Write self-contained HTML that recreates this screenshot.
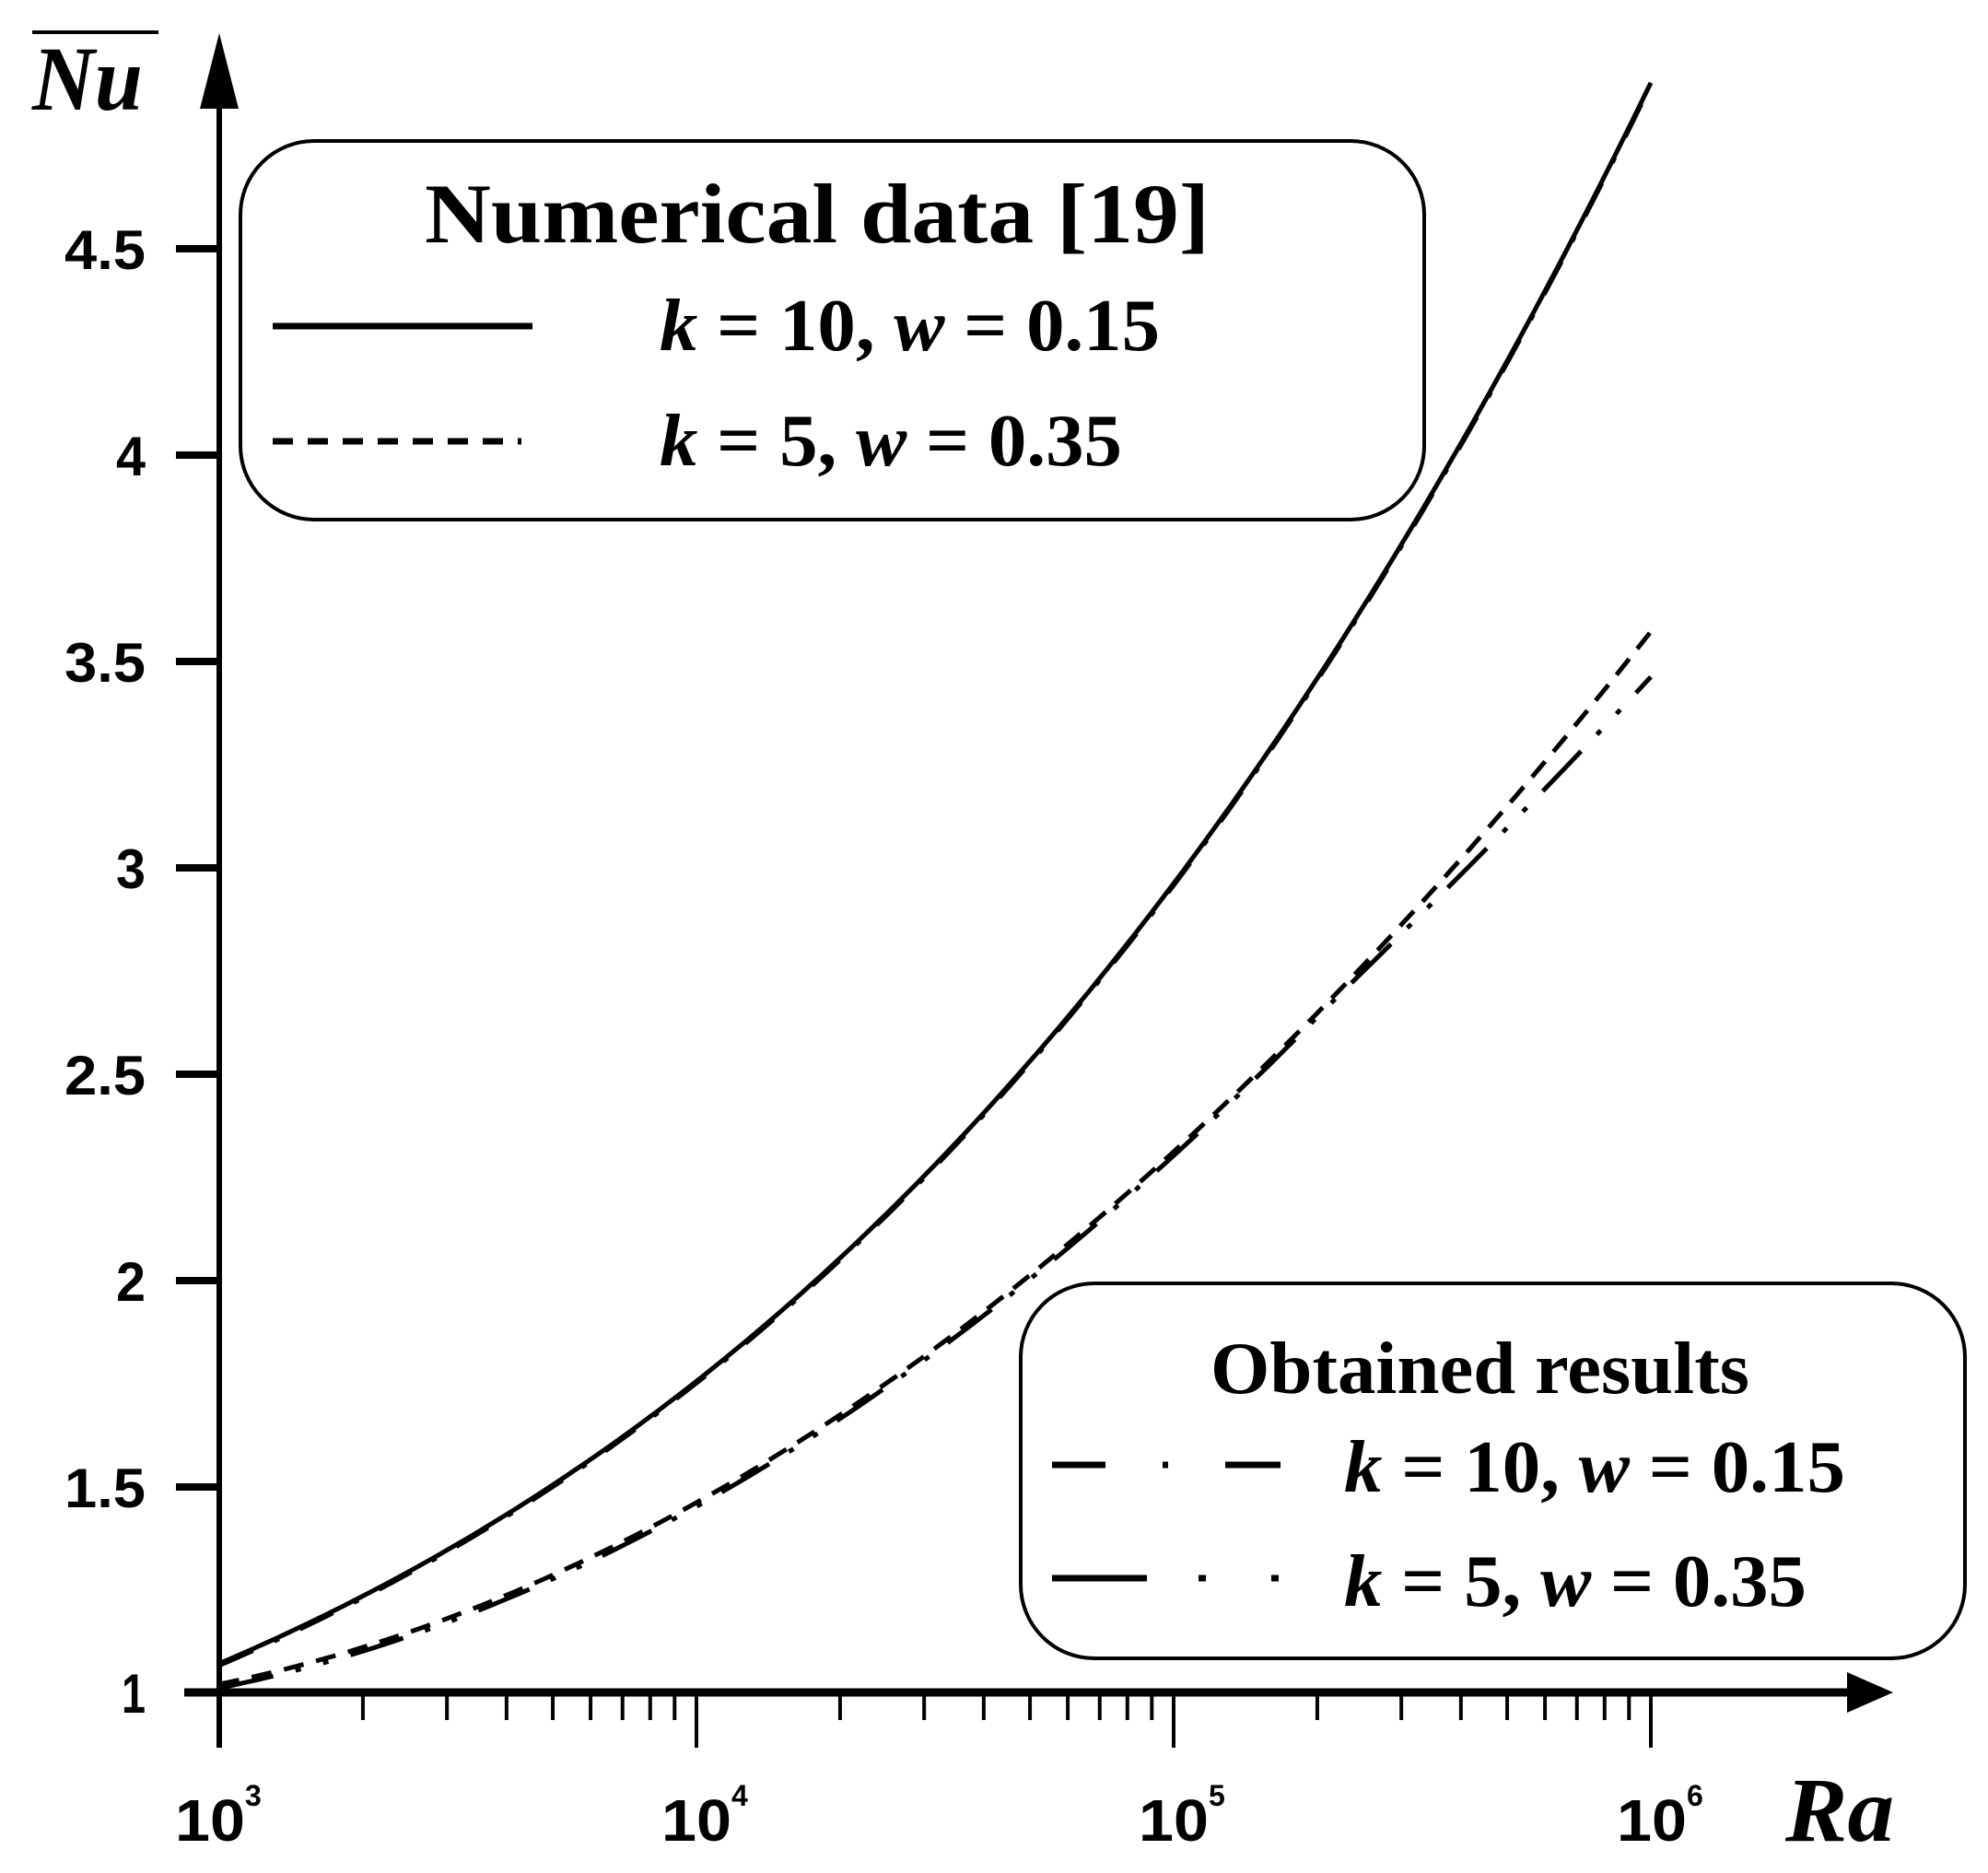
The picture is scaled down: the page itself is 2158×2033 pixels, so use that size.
<!DOCTYPE html>
<html><head><meta charset="utf-8"><style>html,body{margin:0;padding:0;background:#fff}svg{display:block}</style></head>
<body>
<svg id="s" width="2158" height="2033" viewBox="0 0 2158 2033" xmlns="http://www.w3.org/2000/svg">
<rect width="2158" height="2033" fill="#fff"/>
<!-- axes -->
<line x1="238" y1="80" x2="238" y2="1897" stroke="#000" stroke-width="6"/>
<polygon points="238,36 217,118 259,118" fill="#000"/>
<line x1="200" y1="1837" x2="2010" y2="1837" stroke="#000" stroke-width="9"/>
<polygon points="2055,1837 2005,1815 2005,1859" fill="#000"/>
<g id="xt" stroke="#000" stroke-width="4"></g>
<g stroke="#000" stroke-width="8">
<line x1="191" y1="270" x2="238" y2="270"/><line x1="191" y1="494" x2="238" y2="494"/>
<line x1="191" y1="718" x2="238" y2="718"/><line x1="191" y1="942" x2="238" y2="942"/>
<line x1="191" y1="1166" x2="238" y2="1166"/><line x1="191" y1="1390" x2="238" y2="1390"/>
<line x1="191" y1="1614" x2="238" y2="1614"/>
</g>
<g font-family="Liberation Sans, sans-serif" font-weight="bold" font-size="60" text-anchor="end">
<text x="158" y="292" textLength="88" lengthAdjust="spacingAndGlyphs">4.5</text>
<text x="158" y="516" textLength="32" lengthAdjust="spacingAndGlyphs">4</text>
<text x="158" y="740" textLength="88" lengthAdjust="spacingAndGlyphs">3.5</text>
<text x="158" y="964" textLength="32" lengthAdjust="spacingAndGlyphs">3</text>
<text x="158" y="1188" textLength="88" lengthAdjust="spacingAndGlyphs">2.5</text>
<text x="158" y="1412" textLength="32" lengthAdjust="spacingAndGlyphs">2</text>
<text x="158" y="1636" textLength="88" lengthAdjust="spacingAndGlyphs">1.5</text>
<text x="158" y="1859" textLength="26" lengthAdjust="spacingAndGlyphs">1</text>
</g>
<g font-family="Liberation Sans, sans-serif" font-weight="bold" font-size="64">
<text x="190" y="1998" textLength="76" lengthAdjust="spacingAndGlyphs">10</text><text x="266" y="1960" font-size="32">3</text>
<text x="718" y="1998" textLength="76" lengthAdjust="spacingAndGlyphs">10</text><text x="794" y="1960" font-size="32">4</text>
<text x="1236" y="1998" textLength="76" lengthAdjust="spacingAndGlyphs">10</text><text x="1312" y="1960" font-size="32">5</text>
<text x="1755" y="1998" textLength="76" lengthAdjust="spacingAndGlyphs">10</text><text x="1831" y="1960" font-size="32">6</text>
</g>
<text x="1938" y="1998" font-family="Liberation Serif, serif" font-weight="bold" font-style="italic" font-size="100" textLength="118" lengthAdjust="spacingAndGlyphs">Ra</text>
<text x="35" y="119" font-family="Liberation Serif, serif" font-weight="bold" font-style="italic" font-size="100" textLength="120" lengthAdjust="spacingAndGlyphs">Nu</text>
<line x1="35" y1="35" x2="172" y2="35" stroke="#000" stroke-width="4"/>
<!-- curves -->
<path id="c1" fill="none" stroke="#000" stroke-width="5"/>
<path id="c2" fill="none" stroke="#000" stroke-width="5" stroke-dasharray="22 14"/>
<path id="c3" fill="none" stroke="#000" stroke-width="5" stroke-dasharray="40 25 6 25"/>
<path id="c4" fill="none" stroke="#000" stroke-width="5" stroke-dasharray="60 25 6 25 6 25"/>
<!-- legend 1 -->
<rect x="261" y="153" width="1285" height="411" rx="80" ry="80" fill="#fff" stroke="#000" stroke-width="4"/>
<text x="461" y="263" font-family="Liberation Serif, serif" font-weight="bold" font-size="92" textLength="852" lengthAdjust="spacingAndGlyphs">Numerical data [19]</text>
<line x1="296" y1="354" x2="578" y2="354" stroke="#000" stroke-width="7"/>
<line x1="296" y1="479" x2="566" y2="479" stroke="#000" stroke-width="7" stroke-dasharray="22 16"/>
<g font-family="Liberation Serif, serif" font-weight="bold" font-size="80">
<text x="716" y="380" textLength="543" lengthAdjust="spacingAndGlyphs"><tspan font-style="italic">k</tspan> = 10, <tspan font-style="italic">w</tspan> = 0.15</text>
<text x="716" y="505" textLength="502" lengthAdjust="spacingAndGlyphs"><tspan font-style="italic">k</tspan> = 5, <tspan font-style="italic">w</tspan> = 0.35</text>
</g>
<!-- legend 2 -->
<rect x="1108" y="1393" width="1025" height="407" rx="80" ry="80" fill="#fff" stroke="#000" stroke-width="4"/>
<text x="1314" y="1512" font-family="Liberation Serif, serif" font-weight="bold" font-size="80" textLength="585" lengthAdjust="spacingAndGlyphs">Obtained results</text>
<g stroke="#000" stroke-width="7">
<line x1="1142" y1="1590" x2="1200" y2="1590"/>
<line x1="1262" y1="1590" x2="1268" y2="1590"/><line x1="1330" y1="1590" x2="1390" y2="1590"/>
<line x1="1142" y1="1713" x2="1245" y2="1713"/><line x1="1301" y1="1713" x2="1309" y2="1713"/>
<line x1="1380" y1="1713" x2="1388" y2="1713"/>
</g>
<g font-family="Liberation Serif, serif" font-weight="bold" font-size="80">
<text x="1459" y="1619" textLength="544" lengthAdjust="spacingAndGlyphs"><tspan font-style="italic">k</tspan> = 10, <tspan font-style="italic">w</tspan> = 0.15</text>
<text x="1459" y="1743" textLength="502" lengthAdjust="spacingAndGlyphs"><tspan font-style="italic">k</tspan> = 5, <tspan font-style="italic">w</tspan> = 0.35</text>
</g>
</svg>
<script>
(function(){
var X=function(u){return 238+518*u},Y=function(n){return 1837-448*(n-1)};
function up(u){return 1.07+0.684*u+0.261*u*(u-1)+0.0353*u*(u-1)*(u-2);}
function lo(u){return 1.02+0.44*u+0.205*u*(u-1);}
function lo2(u){var t=Math.max(0,(u-2.3)/0.7);return lo(u)-0.005-0.1*Math.pow(t,1.5);}
function path(f,off){var d="";for(var i=0;i<=150;i++){var u=3*i/150;d+=(i?" L":"M")+X(u).toFixed(1)+","+(Y(f(u))+off).toFixed(1);}return d;}
document.getElementById("c1").setAttribute("d",path(up,0));
document.getElementById("c3").setAttribute("d",path(up,2));
document.getElementById("c2").setAttribute("d",path(lo,0));
document.getElementById("c4").setAttribute("d",path(lo2,2));
var g=document.getElementById("xt"),h="";
for(var d=0;d<3;d++)for(var n=2;n<=9;n++){var x=X(d+Math.log10(n));h+='<line x1="'+x+'" y1="1837" x2="'+x+'" y2="1867"/>';}
for(var d=0;d<=3;d++){var x=X(d);h+='<line x1="'+x+'" y1="1837" x2="'+x+'" y2="1897"/>';}
g.innerHTML=h;
})();
</script>
</body></html>
